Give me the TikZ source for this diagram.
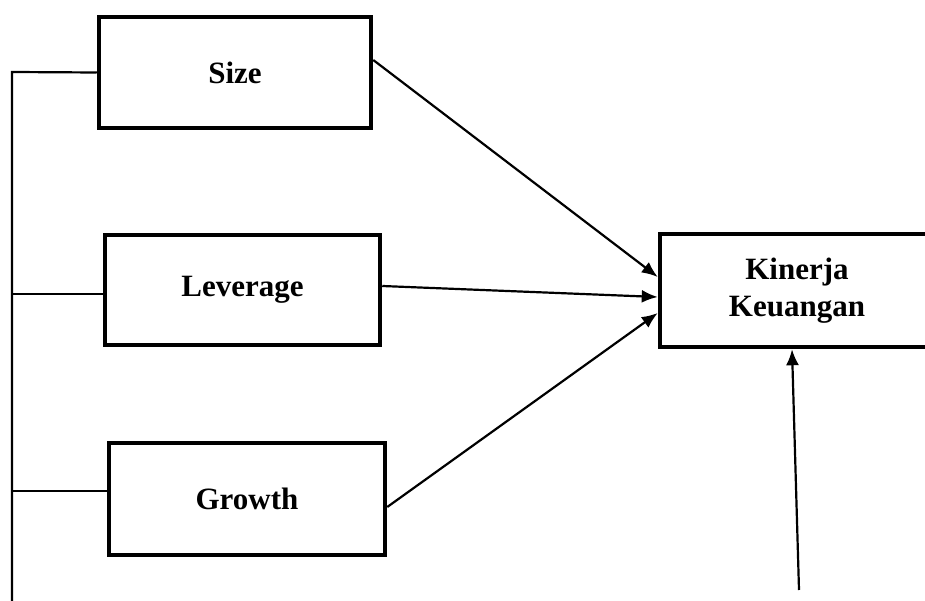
\documentclass[tikz,border=0pt]{standalone}
\usepackage{fontspec}
\setmainfont{Liberation Serif}
\usetikzlibrary{arrows.meta}
\tikzset{
    var-box/.style = {draw=black, line width=4.5pt, rectangle, align=center, font=\fontsize{31}{37}\selectfont\bfseries},
    link/.style = {draw=black, line width=2.2pt},
    link-arrow/.style = {link, -{Latex[length=16pt,width=13pt]}},
}

\begin{document}
\begin{tikzpicture}[x=1pt,y=-1pt]
\useasboundingbox (0,0) rectangle (925,601);
\begin{scope}
\clip (0,0) rectangle (925,601);
\node [var-box, minimum width=272pt, minimum height=111pt] (size) at (235,72.5) {Size};
\node [var-box, minimum width=275pt, minimum height=110pt] (leverage) at (242.5,290) {Leverage};
\node [var-box, minimum width=276pt, minimum height=112pt] (growth) at (247,499) {Growth};
\node [var-box, minimum width=274pt, minimum height=113pt] (kinerja) at (797,290.5) {Kinerja\\Keuangan};

% garis ke kiri
\coordinate (spine-top) at (12,72);
\coordinate (spine-bottom) at (12,601);
\coordinate (bottom-in) at (799,590);
\draw [link] (size.west) -- (spine-top) -- (spine-bottom);
\draw [link] ([yshift=-4pt]leverage.west) -- ([yshift=-4pt]leverage.west -| spine-top);
\draw [link] ([yshift=8pt]growth.west) -- ([yshift=8pt]growth.west -| spine-top);

% panah ke kinerja
\draw [link-arrow] ([yshift=12.5pt]size.east) -- ([yshift=13.5pt]kinerja.west);
\draw [link-arrow] ([yshift=4pt]leverage.east) -- ([yshift=-6.5pt]kinerja.west);
\draw [link-arrow] ([yshift=-8pt]growth.east) -- ([yshift=-22.5pt]kinerja.west);
\draw [link-arrow] (bottom-in) -- ([xshift=-5pt]kinerja.south);
\end{scope}
\end{tikzpicture}
\end{document}
